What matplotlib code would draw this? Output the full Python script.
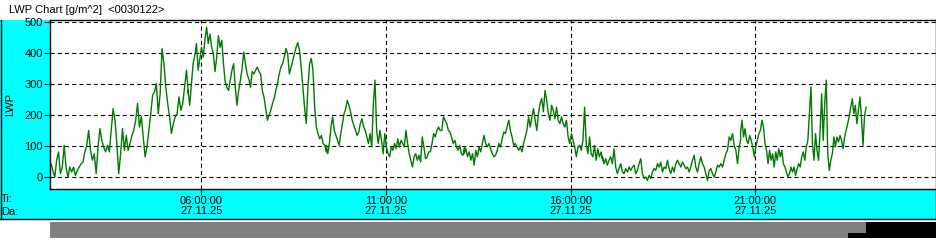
import numpy as np
import matplotlib.pyplot as plt
from matplotlib.patches import Rectangle
from matplotlib.lines import Line2D

plt.rcParams['font.family'] = ['Liberation Sans', 'DejaVu Sans']
plt.rcParams['lines.scale_dashes'] = False

# LWP samples in six time blocks (hours of 27.11.25)
seg_times = [(1.93, 5.65), (5.64, 9.39), (9.38, 13.13),
             (13.12, 16.87), (16.86, 20.61), (20.60, 24.0)]

seg1 = [44, 22, 0, 55, 82, 12, 33, 103, 33, 0, 33, 17, 33, 6, 22, 33, 44, 49,
        82, 103, 151, 87, 55, 76, 12, 98, 157, 119, 98, 82, 103, 82, 151, 221,
        184, 109, 12, 76, 157, 87, 135, 87, 109, 135, 151, 184, 238, 162, 195,
        130, 66, 98, 151, 205, 265, 275, 302, 205, 270, 415, 366, 291, 238, 195,
        141, 173, 195, 205, 259, 216, 238, 291, 345, 270]
seg2 = [280, 232, 297, 366, 392, 431, 345, 383, 419, 387, 442, 484, 431, 462,
        419, 398, 341, 387, 457, 419, 442, 366, 308, 290, 280, 312, 345, 366,
        290, 232, 280, 312, 350, 404, 366, 333, 317, 290, 341, 333, 345, 355,
        341, 333, 280, 258, 220, 184, 200, 216, 237, 254, 280, 302, 333, 355,
        366, 387, 415, 398, 333, 355, 377, 398, 419, 434, 409, 355, 290, 226,
        173, 290, 366, 383, 345, 226, 162, 141, 124, 135, 109, 103, 82]
seg3 = [103, 76, 109, 162, 195, 151, 135, 119, 103, 141, 173, 205, 221, 248,
        232, 211, 184, 168, 151, 135, 146, 173, 189, 162, 151, 130, 109, 141,
        98, 238, 313, 151, 109, 151, 119, 76, 141, 98, 76, 66, 98, 87, 109, 92,
        124, 98, 119, 109, 98, 151, 109, 76, 55, 33, 66, 76, 55, 71, 49, 130,
        98, 60, 66, 82, 82, 109, 141, 130, 151, 162, 151, 151, 195, 184, 173,
        151, 146, 130, 109, 119, 98, 87, 103, 76, 71, 98]
seg4 = [76, 92, 66, 82, 55, 76, 39, 87, 66, 98, 82, 109, 135, 109, 98, 109, 92,
        76, 66, 71, 87, 109, 98, 124, 146, 141, 162, 184, 151, 130, 103, 109,
        98, 87, 98, 82, 109, 130, 151, 195, 162, 195, 221, 184, 151, 205, 238,
        254, 211, 280, 248, 205, 184, 232, 216, 189, 226, 184, 173, 195, 173,
        162, 184, 130, 109, 141, 119, 98, 66, 98, 103, 87, 119, 226, 109, 76,
        130, 76, 66, 103, 55, 92, 66, 82, 55]
seg5 = [66, 44, 60, 39, 55, 66, 44, 92, 33, 12, 28, 44, 17, 12, 28, 17, 33, 22,
        33, 39, 12, 22, 44, 60, 12, -4, 1, -10, 6, -4, 17, 28, 22, 44, 33, 49,
        17, 33, 28, 55, 28, 12, 33, 17, 44, 55, 44, 33, 49, 39, 28, 33, 17, 33,
        55, 71, 33, 17, 44, 66, 44, 33, 12, -10, 22, 28, 12, 1, 17, 39, 33, 44,
        33, 55, 76, 87, 130, 119, 141, 103, 87, 44, 98, 124]
seg6 = [141, 184, 130, 157, 119, 109, 135, 119, 98, 66, 98, 119, 141, 151, 184,
        162, 109, 87, 44, 87, 55, 76, 33, 82, 55, 92, 66, 87, 44, 33, 17, 1, 12,
        33, 17, 33, 6, 28, 44, 33, 66, 82, 55, 98, 119, 205, 291, 109, 55, 141,
        87, 55, 151, 269, 119, 238, 313, 76, 22, 55, 76, 130, 98, 130, 114, 135,
        119, 92, 130, 151, 173, 195, 226, 253, 205, 232, 173, 216, 259, 195, 103,
        195, 226]

tick_hours = [6, 11, 16, 21]
tick_date = "27.11.25"
y_ticks = [0, 100, 200, 300, 400, 500]

segs = [seg1, seg2, seg3, seg4, seg5, seg6]
t = np.concatenate([np.linspace(a, b, len(s)) for (a, b), s in zip(seg_times, segs)])
lwp = np.concatenate([np.array(s, float) for s in segs])

W, H = 937, 242
fig = plt.figure(figsize=(W / 100, H / 100), dpi=100)

def fx(px):
    return px / W

def fy(py):
    return 1 - py / H

# cyan panel behind the axes
fig.patches.append(Rectangle((fx(0), fy(219)), fx(936), fy(20) - fy(219),
                             transform=fig.transFigure, facecolor='#00ffff',
                             edgecolor='none', zorder=-5))
for xs, ys in [([0.5, 0.5], [20, 219]), ([0, 936], [219, 219]), ([936, 936], [20, 219])]:
    fig.lines.append(Line2D([fx(v) for v in xs], [fy(v) for v in ys],
                            transform=fig.transFigure, color='black', lw=1, zorder=-4))

# scroll bar
fig.patches.append(Rectangle((fx(50), fy(238)), fx(816), fy(222) - fy(238),
                             transform=fig.transFigure, facecolor='#808080',
                             edgecolor='none'))
fig.patches.append(Rectangle((fx(866), fy(238)), fx(71), fy(222) - fy(238),
                             transform=fig.transFigure, facecolor='black',
                             edgecolor='none'))
fig.patches.append(Rectangle((fx(848), fy(238)), fx(18), fy(233) - fy(238),
                             transform=fig.transFigure, facecolor='black',
                             edgecolor='none'))

ax = fig.add_axes([fx(50), fy(189), fx(886), fy(20) - fy(189)])
ax.set_facecolor('white')
ax.plot(t, lwp, color='#007a00', lw=1.0)

ax.set_xlim(1.903, 25.894)
ax.set_ylim(-37.7, 507)
ax.set_yticks(y_ticks)
ax.set_yticklabels([str(v) for v in y_ticks], fontsize=8)
ax.set_xticks(tick_hours)
ax.set_xticklabels([f"{h:02d}:00:00\n{tick_date}" for h in tick_hours], fontsize=8,
                   linespacing=1.05)
ax.tick_params(axis='both', direction='out', length=4, width=0.8, color='black', pad=1)
ax.grid(True, color='black', lw=0.8, linestyle=(0, (3, 2.2)))
for sp in ax.spines.values():
    sp.set_linewidth(1)
    sp.set_color('black')
ax.set_ylabel('LWP', fontsize=8, labelpad=7)

fig.text(fx(9), fy(10), "LWP Chart [g/m^2]  <0030122>", fontsize=8, va='center', ha='left')
fig.text(fx(1), fy(199), "Ti:", fontsize=8, va='center', ha='left')
fig.text(fx(1), fy(212), "Da:", fontsize=8, va='center', ha='left')

fig.savefig('out.png', dpi=100, facecolor='white')
